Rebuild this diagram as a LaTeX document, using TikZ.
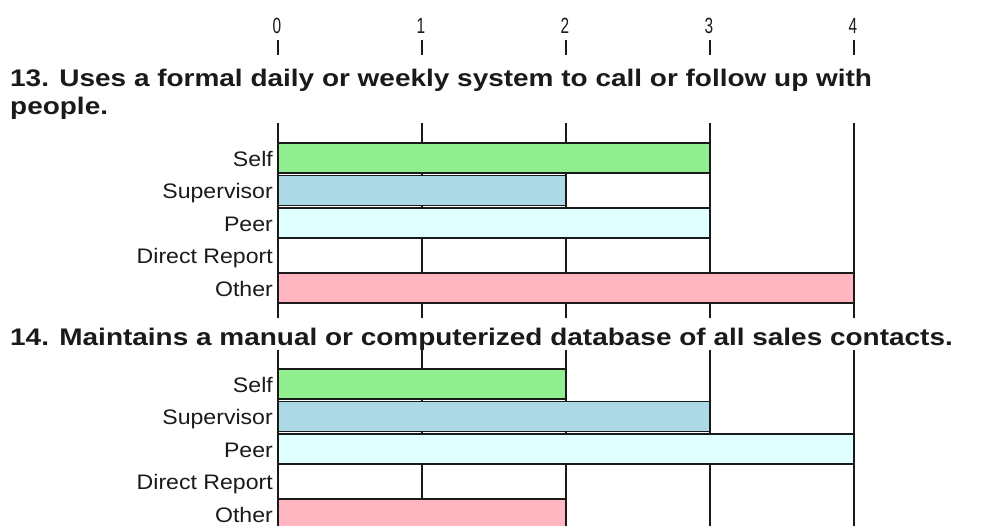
\documentclass[tikz,border=0pt]{standalone}
\usepackage{fontspec}
\setmainfont{Liberation Sans}
\newfontfamily\labelfont[FakeStretch=1.1]{Liberation Sans}
\newfontfamily\tickfont[FakeStretch=0.7]{Liberation Sans}
\newfontfamily\qfont[FakeStretch=1.165]{Liberation Sans Bold}

\definecolor{selfc}{HTML}{90EE90}
\definecolor{supc}{HTML}{ADD8E6}
\definecolor{peerc}{HTML}{E0FFFF}
\definecolor{otherc}{HTML}{FFB6C1}
\definecolor{ink}{HTML}{1A1A1A}

\tikzset{
  gridline/.style={draw=ink, line width=1.6pt},
  barbox/.style={draw=ink, line width=1.4pt},
  rowlabel/.style={font=\labelfont\fontsize{21}{21}\selectfont, anchor=base east, inner sep=0pt, text=ink},
  ticklabel/.style={font=\tickfont\fontsize{22}{22}\selectfont, anchor=base, inner sep=0pt, text=ink},
  question/.style={font=\qfont\fontsize{24}{24}\selectfont, anchor=base west, inner sep=0pt, text=ink},
}

% one chart: #1 name, #2 grid top, #3 grid bottom, #4 first bar top, #5 list label/value/colour
\newcommand\ratingchart[5]{%
  \foreach \k in {0,...,4}
    \draw[gridline] ({278+144*\k},#2) -- ({278+144*\k},#3);
  \foreach \lab/\val/\col [count=\i from 0] in {#5} {
    \pgfmathsetmacro\top{#4+32.5*\i}
    \node[rowlabel] (#1-\i) at (273,\top+23) {\lab};
    \ifnum\val>0
      \filldraw[barbox, fill=\col] (278,\top) rectangle ({278+144*\val},\top+30);
    \fi
  }
}

\begin{document}
\begin{tikzpicture}[x=1pt,y=-1pt]
  \useasboundingbox (0,0) rectangle (992,525);
  \fill[white] (0,0) rectangle (992,525);

  % value scale along the top
  \foreach \v in {0,...,4} {
    \node[ticklabel] (tick\v) at ({277+144*\v},33) {\v};
    \draw[ink, line width=1.4pt] ({278+144*\v},40) -- ({278+144*\v},55);
  }

  % question 13
  \node[question] (q13a) at (10,86) {13. Uses a formal daily or weekly system to call or follow up with};
  \node[question] (q13b) at (10,114) {people.};
  \ratingchart{r13}{123}{318}{143}{Self/3/selfc, Supervisor/2/supc, Peer/3/peerc, Direct Report/0/white, Other/4/otherc}

  % question 14
  \node[question] (q14) at (10,345) {14. Maintains a manual or computerized database of all sales contacts.};
  \ratingchart{r14}{350}{530}{369}{Self/2/selfc, Supervisor/3/supc, Peer/4/peerc, Direct Report/0/white, Other/2/otherc}
\end{tikzpicture}
\end{document}
